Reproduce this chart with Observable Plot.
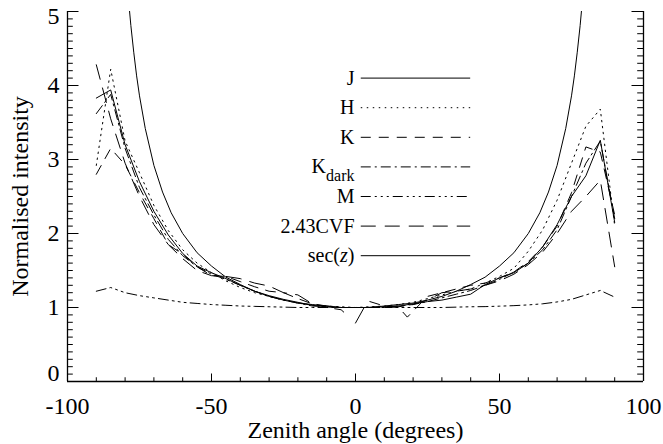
<!DOCTYPE html>
<html><head><meta charset="utf-8">
<script src="https://cdn.jsdelivr.net/npm/d3@7"></script>
<script src="https://cdn.jsdelivr.net/npm/@observablehq/plot@0.6"></script>
<style>
body{margin:0;background:#fff}
#chart{width:663px;height:444px}
#chart svg, #chart svg text, #chart svg tspan {font-family: "Liberation Serif", "Times New Roman", "DejaVu Serif", serif !important;}
</style>
</head><body><div id="chart"></div>
<script>
// Zenith angles (degrees) at which the filter curves were sampled
const angles = [-90,-85,-80,-75,-70,-65,-60,-55,-50,-45,-40,-35,-30,-25,-20,-15,-10,-5,-3,0,3,5,10,15,18,20,25,30,35,40,45,50,55,60,65,70,75,80,85,90];
// null = no sample at that angle, NaN = break in the curve
const seriesJ     = [3.83,3.94,3.2,2.7,2.3,1.98,1.73,1.56,1.47,1.39, 1.3,1.22,1.16,1.11,1.07,1.03,1.01,1.0,NaN,0.79, 1.0,null,1.01,1.02,null,1.05,1.08,1.1,1.14,1.18, 1.31,1.4,1.47,1.6,1.82,2.12,2.5,2.78,3.26,2.15];
const seriesH     = [2.92,4.22,3.25,2.82,2.38,2.04,1.78,1.6,1.47,1.36, 1.27,1.2,1.15,1.1,1.06,1.03,1.02,1.01,null,1.0, null,1.01,1.02,1.04,null,1.07,1.12,1.17,1.22,1.25, 1.33,1.42,1.53,1.76,2.05,2.45,2.95,3.45,3.68,2.1];
const seriesK     = [2.8,3.15,2.93,2.55,2.2,1.85,1.72,1.55,1.43,1.42, 1.35,1.28,1.22,1.2,1.12,1.05,1.0,0.97,0.9,NaN, null,1.08,1.02,1.0,0.87,null,1.15,1.2,1.25,1.3, 1.33,1.4,1.48,1.62,1.82,2.1,2.55,3.17,3.1,2.25];
const seriesKdark = [3.62,3.88,3.15,2.62,2.25,1.92,1.7,1.55,1.45,1.38, 1.3,1.22,1.15,1.1,1.06,1.02,1.01,1.0,null,1.0, null,1.0,1.01,1.02,null,1.04,1.08,1.13,1.18,1.23, 1.3,1.38,1.48,1.6,1.78,2.05,2.5,2.95,3.25,2.2];
const seriesM     = [1.22,1.27,1.2,1.16,1.13,1.1,1.07,1.055,1.04,1.03, 1.02,1.015,1.01,1.005,1.0,1.0,1.0,1.0,null,1.0, null,1.0,1.0,1.0,null,1.0,1.0,1.0,1.005,1.01, 1.012,1.018,1.025,1.035,1.05,1.075,1.11,1.17,1.23,1.14];
const seriesCVF   = [4.28,3.55,2.95,2.5,2.12,1.85,1.66,1.5,1.43,1.42, 1.39,1.33,1.29,1.2,1.17,1.05,1.02,1.0,null,1.0, null,1.0,1.0,1.01,null,1.04,1.1,1.2,1.22,1.25, 1.3,1.36,1.45,1.58,1.75,2.0,2.3,2.5,2.72,1.55];
// sec(z) reference curve
const secAngles = [-79,-78,-77,-76,-75,-73,-70,-67,-64,-60,-55,-50,-45,-40,-35,-30,-25,-20,-15,-10,-5,0,5,10,15,20,25,30,35,40,45,50,55,60,64,67,70,73,75,76,77,78,79];
const secValues = [5.24,4.81,4.45,4.13,3.86,3.42,2.92,2.56,2.28,2.0,1.74,1.56,1.41,1.31,1.22,1.15,1.1,1.06,1.04,1.02,1.0,1.0,1.0,1.02,1.04,1.06,1.1,1.15,1.22,1.31,1.41,1.56,1.74,2.0,2.28,2.56,2.92,3.42,3.86,4.13,4.45,4.81,5.24];

const legendNames = ["J","H","K","Kdark","M","2.43CVF","sec(z)"];
const xTicks = [-100,-50,0,50,100];
const yTicks = [0,1,2,3,4,5];

const dashes = [null,"1.5,4.5","10,8","10,4,2,4","10,4,2,4,2,4,2,4","15,9",null];
const seriesX = [angles,angles,angles,angles,angles,angles,secAngles];
const seriesY = [seriesJ,seriesH,seriesK,seriesKdark,seriesM,seriesCVF,secValues];

const FONT = "'Liberation Serif', 'Times New Roman', 'DejaVu Serif', serif";
const W = 663, H = 444, mL = 67, mR = 20, mT = 11, mB = 63;
const fw = W - mL - mR, fh = H - mT - mB;
const xMinor = d3.range(-100, 101, 10);
const yMinor = d3.range(0, 51).map(i => i / 10);

const lineMarks = [];
legendNames.forEach((name, k) => {
  const rows = [];
  seriesX[k].forEach((z, i) => { const v = seriesY[k][i]; if (v !== null) rows.push({z, v}); });
  lineMarks.push(Plot.line(rows, {x: "z", y: "v", stroke: "#000", strokeWidth: 1, strokeDasharray: dashes[k], clip: true}));
});

const legendRows = legendNames.map((name, k) => ({name, ly: 4.1 - 0.4 * k, k}));
const legendMarks = [];
legendRows.forEach(r => {
  legendMarks.push(Plot.ruleY([r], {y: "ly", x1: 2, x2: 40, stroke: "#000", strokeWidth: 1, strokeDasharray: dashes[r.k]}));
});
legendMarks.push(Plot.text(legendRows, {x: 0, y: "ly", text: "name", textAnchor: "end", dx: -1, fontSize: 20, fill: "#000", fontFamily: FONT}));

const axisOpts = {tickSize: 0, tickFormat: d => String(d), label: null, fontSize: 24, fontFamily: FONT};

const chart = Plot.plot({
  width: W, height: H,
  marginLeft: mL, marginRight: mR, marginTop: mT, marginBottom: mB,
  x: {domain: [-100, 100], label: null},
  y: {domain: [0, 5], label: null},
  style: {fontFamily: FONT, fontSize: "24px", background: "#fff", color: "#000"},
  marks: [
    Plot.ruleX(xMinor, {stroke: "#000", strokeWidth: 1, insetTop: fh - 3.75}),
    Plot.ruleX(xTicks, {stroke: "#000", strokeWidth: 1, insetTop: fh - 7.5}),
    Plot.ruleY(yMinor, {stroke: "#000", strokeWidth: 1, insetRight: fw - 5.8}),
    Plot.ruleY(yTicks, {stroke: "#000", strokeWidth: 1, insetRight: fw - 11.5}),
    Plot.ruleY(yMinor, {stroke: "#000", strokeWidth: 1, insetLeft: fw - 5.8}),
    Plot.ruleY(yTicks, {stroke: "#000", strokeWidth: 1, insetLeft: fw - 11.5}),
    Plot.ruleX([-100, 100], {stroke: "#000", strokeWidth: 1.3}),
    Plot.ruleY([0], {stroke: "#000", strokeWidth: 1.3}),
    Plot.axisX(xTicks, {...axisOpts, tickPadding: 15}),
    Plot.axisY(yTicks.filter(d => d > 0 && d < 5), {...axisOpts, tickPadding: 8}),
    Plot.axisY(yTicks.filter(d => d === 5), {...axisOpts, tickPadding: 8, dy: 5}),
    Plot.axisY(yTicks.filter(d => d === 0), {...axisOpts, tickPadding: 8, dy: -8}),
    ...lineMarks,
    ...legendMarks,
    Plot.text(["Zenith angle (degrees)"], {frameAnchor: "bottom", lineAnchor: "middle", textAnchor: "middle", dy: 49, fontSize: 24, fill: "#000", fontFamily: FONT}),
    Plot.text(["Normalised intensity"], {frameAnchor: "left", textAnchor: "middle", lineAnchor: "middle", dx: -47, rotate: -90, fontSize: 24, fill: "#000", fontFamily: FONT})
  ]
});
document.getElementById("chart").appendChild(chart);

chart.querySelectorAll("text").forEach(t => t.setAttribute("font-family", FONT));
// subscript and italic in legend labels
chart.querySelectorAll("text").forEach(t => {
  if (t.textContent === "Kdark") {
    t.textContent = "";
    const a = document.createElementNS("http://www.w3.org/2000/svg", "tspan");
    a.textContent = "K";
    const b = document.createElementNS("http://www.w3.org/2000/svg", "tspan");
    b.textContent = "dark"; b.setAttribute("dy", "0.5em"); b.setAttribute("font-size", "16");
    t.appendChild(a); t.appendChild(b);
  } else if (t.textContent === "sec(z)") {
    t.textContent = "";
    const parts = [["sec(", null], ["z", "italic"], [")", null]];
    parts.forEach(([s, st]) => {
      const sp = document.createElementNS("http://www.w3.org/2000/svg", "tspan");
      sp.textContent = s; if (st) sp.setAttribute("font-style", st);
      t.appendChild(sp);
    });
  }
});
</script>
</body></html>
